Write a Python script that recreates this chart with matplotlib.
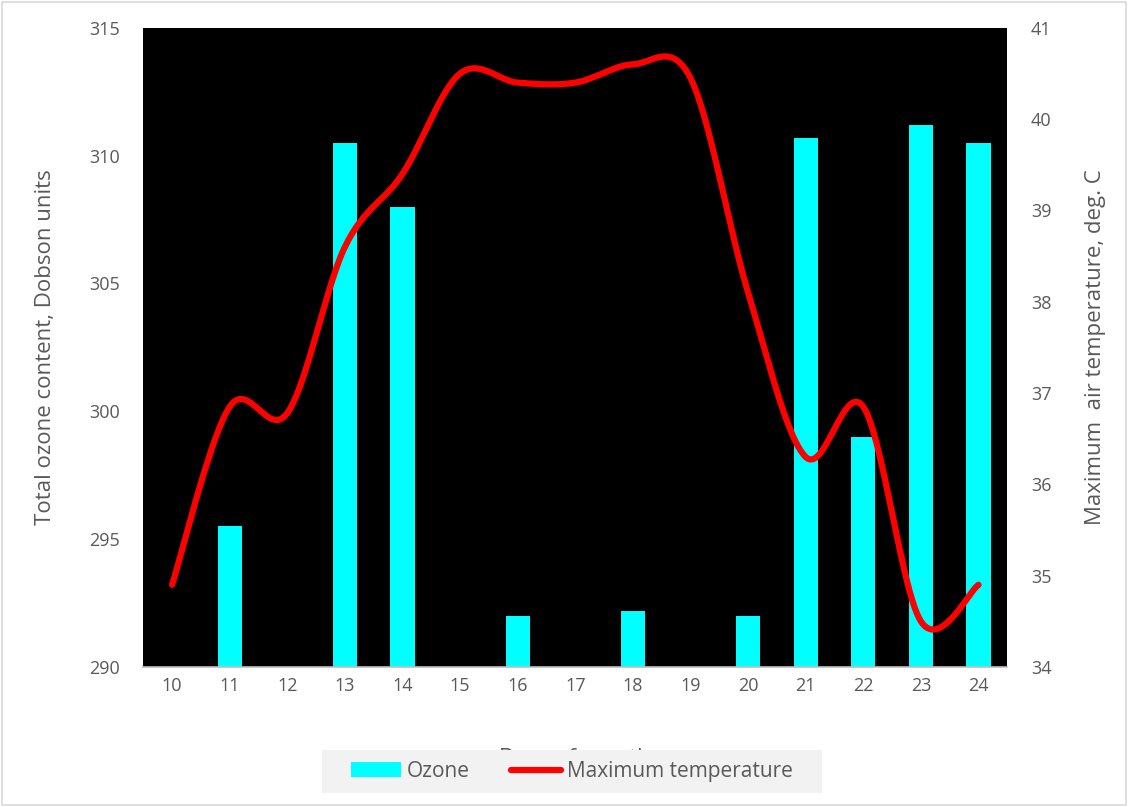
import numpy as np
import matplotlib
matplotlib.use("Agg")
import matplotlib.pyplot as plt
from matplotlib.patches import Rectangle, Patch
from matplotlib.lines import Line2D

days = ["10", "11", "12", "13", "14", "15", "16", "17", "18", "19", "20", "21", "22", "23", "24"]
ozone = [np.nan, 295.5, np.nan, 310.5, 308.0, np.nan, 292.0, np.nan, 292.2, np.nan, 292.0, 310.7, 299.0, 311.2, 310.5]
max_temp = [34.9, 36.85, 36.78, 38.6, 39.4, 40.5, 40.4, 40.4, 40.6, 40.45, 38.1, 36.3, 36.85, 34.5, 34.9]

grey = "#595959"
plt.rcParams["font.family"] = ["Open Sans", "DejaVu Sans"]
label_font = ["Liberation Sans Narrow", "Open Sans", "DejaVu Sans"]


def smooth(xs, ys, n=30):
    # catmull-rom, like the smoothed line of a spreadsheet chart
    xs = np.asarray(xs, float)
    ys = np.asarray(ys, float)
    px = np.concatenate([[xs[0]], xs, [xs[-1]]])
    py = np.concatenate([[ys[0]], ys, [ys[-1]]])
    out_x, out_y = [], []
    t = np.linspace(0, 1, n, endpoint=False)
    h00 = 2 * t**3 - 3 * t**2 + 1
    h10 = t**3 - 2 * t**2 + t
    h01 = -2 * t**3 + 3 * t**2
    h11 = t**3 - t**2
    for i in range(1, len(px) - 2):
        mx0 = (px[i + 1] - px[i - 1]) / 2
        mx1 = (px[i + 2] - px[i]) / 2
        my0 = (py[i + 1] - py[i - 1]) / 2
        my1 = (py[i + 2] - py[i]) / 2
        out_x.extend(h00 * px[i] + h10 * mx0 + h01 * px[i + 1] + h11 * mx1)
        out_y.extend(h00 * py[i] + h10 * my0 + h01 * py[i + 1] + h11 * my1)
    out_x.append(xs[-1])
    out_y.append(ys[-1])
    return np.array(out_x), np.array(out_y)


fig = plt.figure(figsize=(11.28, 8.07), dpi=100)
fig.add_artist(Rectangle((0.002, 0.002), 0.996, 0.995, transform=fig.transFigure,
                         fill=False, edgecolor="#D9D9D9", linewidth=1.2))

ax = fig.add_axes([0.127, 0.1735, 0.766, 0.792])
x = np.arange(len(days))
ax.bar(x, ozone, width=0.42, color="#00FFFF", zorder=2)
ax.set_facecolor("black")
ax.set_xlim(-0.5, len(days) - 0.5)
ax.set_ylim(290, 315)
ax.set_yticks(range(290, 316, 5))
ax.set_xticks(x)
ax.set_xticklabels(days)
for s in ["top", "left", "right"]:
    ax.spines[s].set_visible(False)
ax.spines["bottom"].set_color("#BFBFBF")
ax.spines["bottom"].set_linewidth(1.2)
ax.tick_params(length=0, colors=grey, labelsize=13, pad=7)
ax.tick_params(axis="y", pad=17)
ax.set_ylabel("Total ozone content, Dobson units", color=grey, fontsize=16,
              family=label_font, labelpad=24)
# x title sits mostly behind the legend box, as in the original
ax.set_xlabel("Days of month", color=grey, fontsize=16,
              family=label_font, labelpad=38.5)

ax2 = ax.twinx()
sx, sy = smooth(x, max_temp)
ax2.plot(sx, sy, color="#FF0000", linewidth=4.5, solid_capstyle="round")
ax2.set_ylim(34, 41)
ax2.set_yticks(range(34, 42))
for s in ["top", "left", "right", "bottom"]:
    ax2.spines[s].set_visible(False)
ax2.tick_params(length=0, colors=grey, labelsize=13, pad=17)
ax2.set_ylabel("Maximum  air temperature, deg. C", color=grey, fontsize=16,
               family=label_font, labelpad=24)

# legend background box, wider than the legend's own frame
fig.add_artist(Rectangle((0.2855, 0.0173), 0.443, 0.0533, transform=fig.transFigure,
                         facecolor="#F2F2F2", edgecolor="none", zorder=9))
handles = [Patch(facecolor="#00FFFF", edgecolor="none"),
           Line2D([0], [0], color="#FF0000", linewidth=4.5, solid_capstyle="round")]
leg = fig.legend(handles, ["Ozone", "Maximum temperature"], loc="center",
                 bbox_to_anchor=(0.507, 0.044), ncol=2, frameon=False,
                 fontsize=15, handlelength=2.4, handleheight=0.7, handletextpad=0.25,
                 columnspacing=2.0, borderpad=0.5, borderaxespad=0, labelcolor=grey)
leg.set_zorder(10)

fig.savefig("out.png", dpi=100)
